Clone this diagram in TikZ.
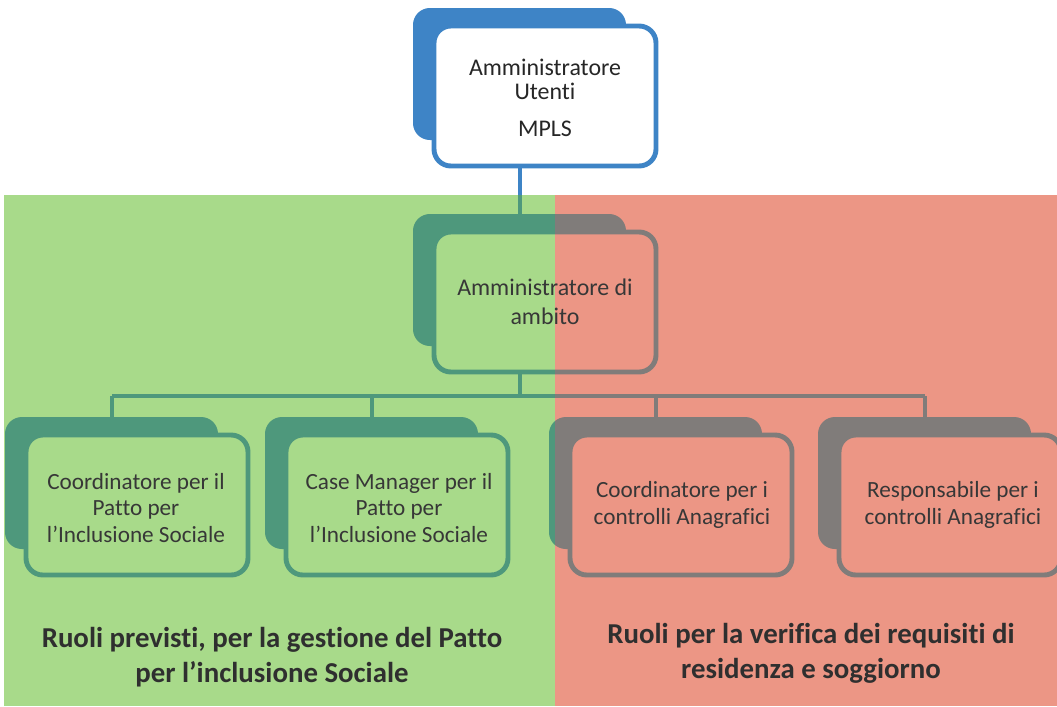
\documentclass[tikz,border=0pt]{standalone}
\usepackage{fontspec}
\setmainfont{Carlito}[Ligatures={NoCommon}]
\usepackage{tikz}

\definecolor{mplsblue}{RGB}{62,132,198}
\definecolor{pisgreen}{RGB}{168,218,138}
\definecolor{pisred}{RGB}{236,150,133}
\definecolor{pisteal}{RGB}{78,152,124}
\definecolor{anagray}{RGB}{128,124,122}
\definecolor{boxtext}{RGB}{55,55,55}

\tikzset{
  roletext/.style={font=\fontsize{16.5}{19}\selectfont, text=boxtext, align=center},
  sidetitle/.style={font=\bfseries\fontsize{20.5}{25}\selectfont, text=boxtext!85!black, align=center},
  link/.style={line width=2.8pt},
}

% back tab + framed box round the centre #1
\newcommand{\rolebox}[3]{%
  \fill[#2,rounded corners=12] ([shift={(-132,-88)}]#1) rectangle ([shift={(81,44)}]#1);
  \draw[#2,fill=#3,line width=3.5pt,rounded corners=12] ([shift={(-111,-70)}]#1) rectangle ([shift={(111,70)}]#1);
}
% lower part of the chart, in the colours of one half
\newcommand{\lowerchart}[2]{%
  \draw[#1,link] ([shift={(-25,70)}]top) -- ([shift={(-25,-80)}]amb);
  \draw[#1,link] ([shift={(-25,70)}]amb) -- (bus);
  \draw[#1,link] (bus -| c1in) -- (bus -| c4in);
  \foreach \c in {c1in,c2in,c3in,c4in}
    \draw[#1,link] (bus -| \c) -- (\c);
  \rolebox{amb}{#1}{#2}
  \rolebox{c1}{#1}{#2}
  \rolebox{c2}{#1}{#2}
  \rolebox{c3}{#1}{#2}
  \rolebox{c4}{#1}{#2}
}

\begin{document}
\begin{tikzpicture}[x=0.025cm,y=-0.025cm]
    \useasboundingbox (0,0) rectangle (1057,706);

    \coordinate (top) at (545,96);
    \coordinate (amb) at (545,302);
    \coordinate (c1) at (137,505);
    \coordinate (c2) at (397,505);
    \coordinate (c3) at (681,505);
    \coordinate (c4) at (950,505);
    \coordinate (bus) at (520,396);
    \coordinate (c1in) at (112,425);
    \coordinate (c2in) at (372,425);
    \coordinate (c3in) at (656,425);
    \coordinate (c4in) at (925,425);

    \fill [pisgreen] (4,195) rectangle (555,706);
    \fill [pisred] (555,195) rectangle (1057,706);

    \draw [mplsblue,link] ([shift={(-25,70)}]top) -- ([shift={(-25,-80)}]amb);
    \rolebox{top}{mplsblue}{white}

    \begin{scope}
        \clip (0,195) rectangle (555,706);
        \lowerchart{pisteal}{pisgreen}
    \end{scope}
    \begin{scope}
        \clip (555,195) rectangle (1057,706);
        \lowerchart{anagray}{pisred}
    \end{scope}

    \node [roletext,font=\fontsize{17}{16.5}\selectfont,text=black!85] (topT) at (545,98) {Amministratore\\Utenti\\[10pt]MPLS};
    \node [roletext,font=\fontsize{17}{20.5}\selectfont] (ambT) at (545,302) {Amministratore di\\ambito};
    \node [roletext] (c1T) at (136,508) {Coordinatore per il\\Patto per\\l'Inclusione Sociale};
    \node [roletext] (c2T) at (399,508) {Case Manager per il\\Patto per\\l'Inclusione Sociale};
    \node [roletext] (c3T) at (682,505) {Coordinatore per i\\controlli Anagrafici};
    \node [roletext] (c4T) at (953,505) {Responsabile per i\\controlli Anagrafici};

    \node [sidetitle] (leftT) at (272,657) {Ruoli previsti, per la gestione del Patto\\per l’inclusione Sociale};
    \node [sidetitle] (rightT) at (811,653) {Ruoli per la verifica dei requisiti di\\residenza e soggiorno};
\end{tikzpicture}
\end{document}
